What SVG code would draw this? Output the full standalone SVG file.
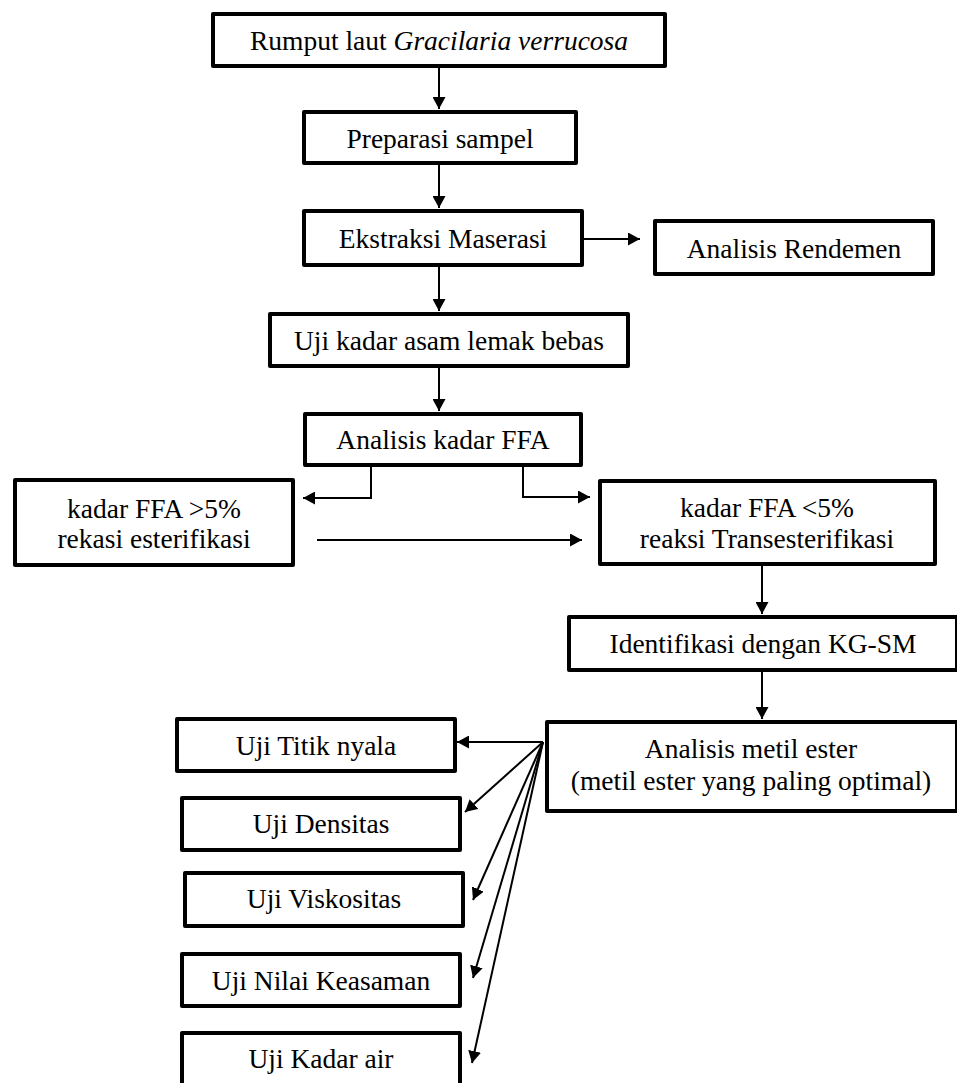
<svg xmlns="http://www.w3.org/2000/svg" width="957" height="1083" viewBox="0 0 957 1083">
<defs>
<marker id="ah" markerUnits="userSpaceOnUse" markerWidth="13" markerHeight="13" refX="12" refY="6.5" orient="auto">
<path d="M0,0 L12,6.5 L0,13 z" fill="#000"/>
</marker>
<style>
.box{fill:#fff;stroke:#000;stroke-width:4;stroke-linejoin:round}
.t{font-family:"Liberation Serif","Times New Roman",serif;font-size:27.5px;fill:#000;text-anchor:middle}
.c{fill:none;stroke:#000;stroke-width:2}
</style>
</defs>
<rect width="957" height="1083" fill="#fff"/>
<g id="connectors">
<path class="c" d="M439,68 V109" marker-end="url(#ah)"/>
<path class="c" d="M439,165 V208" marker-end="url(#ah)"/>
<path class="c" d="M439,267 V311" marker-end="url(#ah)"/>
<path class="c" d="M439,368 V411" marker-end="url(#ah)"/>
<path class="c" d="M584,239 H640" marker-end="url(#ah)"/>
<path class="c" d="M371,467 V498 H303" marker-end="url(#ah)"/>
<path class="c" d="M523,467 V497 H590" marker-end="url(#ah)"/>
<path class="c" d="M317,540 H582" marker-end="url(#ah)"/>
<path class="c" d="M762,566 V614" marker-end="url(#ah)"/>
<path class="c" d="M762,672 V719" marker-end="url(#ah)"/>
<path class="c" d="M543,742 L457,742" marker-end="url(#ah)"/>
<path class="c" d="M543,742 L465,812" marker-end="url(#ah)"/>
<path class="c" d="M543,742 L473,900" marker-end="url(#ah)"/>
<path class="c" d="M543,742 L473,978" marker-end="url(#ah)"/>
<path class="c" d="M543,742 L472,1063" marker-end="url(#ah)"/>
</g>
<g id="n1"><rect class="box" x="213" y="14" width="452" height="52"/><text class="t" x="439" y="50">Rumput laut <tspan font-style="italic">Gracilaria verrucosa</tspan></text></g>
<g id="n2"><rect class="box" x="304" y="112" width="272" height="51"/><text class="t" x="440" y="148">Preparasi sampel</text></g>
<g id="n3"><rect class="box" x="304" y="211" width="278" height="54"/><text class="t" x="443" y="248">Ekstraksi Maserasi</text></g>
<g id="n4"><rect class="box" x="655" y="221" width="278" height="53"/><text class="t" x="794" y="258">Analisis Rendemen</text></g>
<g id="n5"><rect class="box" x="270" y="314" width="358" height="52"/><text class="t" x="449" y="350">Uji kadar asam lemak bebas</text></g>
<g id="n6"><rect class="box" x="305" y="414" width="276" height="51"/><text class="t" x="443" y="449">Analisis kadar FFA</text></g>
<g id="n7"><rect class="box" x="15" y="480" width="278" height="85"/><text class="t" x="154" y="518">kadar FFA &gt;5%</text><text class="t" x="154" y="548">rekasi esterifikasi</text></g>
<g id="n8"><rect class="box" x="600" y="481" width="335" height="83"/><text class="t" x="767" y="517">kadar FFA &lt;5%</text><text class="t" x="767" y="548">reaksi Transesterifikasi</text></g>
<g id="n9"><rect class="box" x="569" y="617" width="388" height="53"/><text class="t" x="763" y="653">Identifikasi dengan KG-SM</text></g>
<g id="n10"><rect class="box" x="547" y="722" width="410" height="89"/><text class="t" x="751" y="758">Analisis metil ester</text><text class="t" x="751" y="790">(metil ester yang paling optimal)</text></g>
<g id="n11"><rect class="box" x="177" y="719" width="278" height="52"/><text class="t" x="316" y="755">Uji Titik nyala</text></g>
<g id="n12"><rect class="box" x="182" y="798" width="278" height="52"/><text class="t" x="321" y="833">Uji Densitas</text></g>
<g id="n13"><rect class="box" x="185" y="873" width="278" height="53"/><text class="t" x="324" y="908">Uji Viskositas</text></g>
<g id="n14"><rect class="box" x="182" y="954" width="278" height="52"/><text class="t" x="321" y="990">Uji Nilai Keasaman</text></g>
<g id="n15"><rect class="box" x="182" y="1033" width="278" height="60"/><text class="t" x="321" y="1068">Uji Kadar air</text></g>
</svg>
